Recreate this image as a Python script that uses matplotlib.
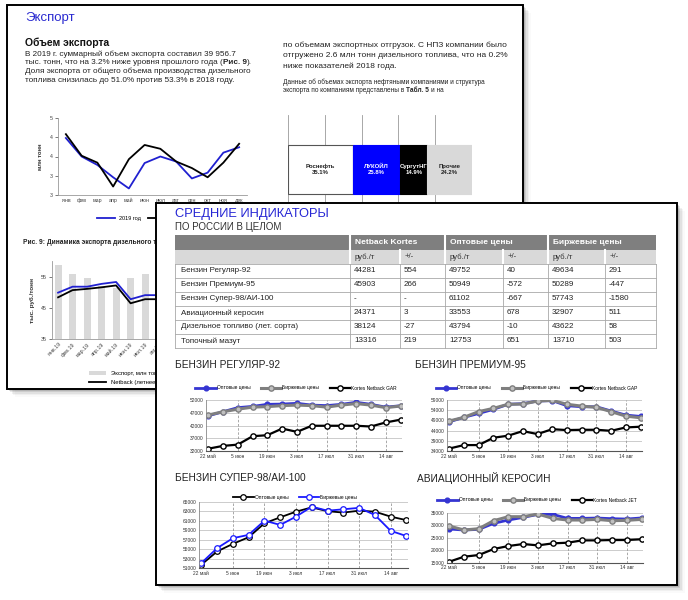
import matplotlib
matplotlib.use('Agg')
import matplotlib.pyplot as plt
from matplotlib.patches import Rectangle
import numpy as np

plt.rcParams['font.family'] = ['Liberation Sans', 'DejaVu Sans']

W, H = 688, 600

# ---------- back page: export report ----------
months = ['янв', 'фев', 'мар', 'апр', 'май', 'июн', 'июл', 'авг', 'сен', 'окт', 'ноя', 'дек']
export_2019 = [4.48, 4.00, 3.78, 3.46, 3.17, 3.83, 4.00, 3.87, 3.43, 3.58, 4.10, 4.24]
export_2018 = [4.58, 4.02, 3.84, 3.22, 3.93, 4.30, 4.20, 3.87, 3.70, 3.46, 3.84, 4.33]
export_yticks = [3, 3.5, 4, 4.5, 5]
export_ytick_labels = ['3', '3', '4', '4', '5']

companies = ['Роснефть', 'ЛУКОЙЛ', 'СургутНГ', 'Прочие']
company_share = [35.1, 25.8, 14.9, 24.2]

diesel_months = ['янв.19', 'фев.19', 'мар.19', 'апр.19', 'май.19', 'июн.19', 'июл.19', 'авг.19']
diesel_export = [58.7, 55.9, 54.5, 52.0, 51.3, 54.5, 55.9, 55.0]
diesel_opt = [49.9, 51.8, 51.8, 52.7, 53.3, 47.8, 49.1, 49.1]
diesel_netback = [48.4, 50.7, 51.1, 51.6, 52.2, 46.5, 47.8, 47.8]

# ---------- front page: average indicators ----------
table_groups = ['Netback Kortes', 'Оптовые цены', 'Биржевые цены']
table_sub = ['руб./т', '+/-']
table_rows = ['Бензин Регуляр-92', 'Бензин Премиум-95', 'Бензин Супер-98/АИ-100',
              'Авиационный керосин', 'Дизельное топливо (лет. сорта)', 'Топочный мазут']
netback_price = ['44281', '45903', '-', '24371', '38124', '13316']
netback_diff = ['554', '266', '-', '3', '-27', '219']
opt_price = ['49752', '50949', '61102', '33553', '43794', '12753']
opt_diff = ['40', '-572', '-667', '678', '-10', '651']
birzh_price = ['49634', '50289', '57743', '32907', '43622', '13710']
birzh_diff = ['291', '-447', '-1580', '511', '58', '503']

weeks = ['22 май', '29 май', '5 июн', '12 июн', '19 июн', '26 июн', '3 июл',
         '10 июл', '17 июл', '24 июл', '31 июл', '7 авг', '14 авг', '21 авг']

ai92_opt = [45800, 47400, 49000, 49500, 50300, 50400, 50700, 50000, 49800, 50300, 51100, 50300, 49200, 49752]
ai92_birzh = [46100, 47400, 48400, 49200, 49400, 49800, 50000, 49800, 49200, 50000, 50600, 50000, 49000, 49634]
ai92_netback = [32900, 34000, 34500, 37800, 38200, 40800, 39500, 41900, 41900, 41900, 41900, 41600, 43200, 44281]

ai95_opt = [48300, 50500, 52400, 54400, 56900, 57200, 58500, 58700, 56200, 55700, 55700, 53600, 51600, 50949]
ai95_birzh = [48700, 50500, 53300, 54900, 56900, 57000, 58500, 58800, 56900, 56000, 55400, 53300, 51100, 50289]
ai95_netback = [35200, 36900, 36900, 40500, 41500, 43750, 42300, 44700, 44250, 44400, 44400, 43900, 45550, 45903]

ai98_opt = [51700, 54500, 56100, 57500, 60450, 61700, 62900, 63800, 63000, 62700, 63100, 62900, 61850, 61102]
ai98_birzh = [52050, 55200, 57300, 58000, 61000, 60100, 61850, 63950, 63100, 63400, 63700, 62200, 58850, 57743]

jet_opt = [28470, 28070, 28330, 30730, 32070, 33130, 34330, 34330, 32730, 32730, 32870, 32600, 32470, 32900]
jet_birzh = [29670, 28070, 28600, 31800, 33400, 33400, 34470, 32730, 32070, 32070, 32330, 31800, 31930, 32330]
jet_netback = [15400, 17400, 18070, 20470, 21670, 22470, 21930, 22730, 23000, 23930, 23930, 24070, 24070, 24371]

fig = plt.figure(figsize=(W / 100, H / 100), dpi=100)
renderer = fig.canvas.get_renderer()


def px_axes(x0, y0, x1, y1, z):
    ax = fig.add_axes([x0 / W, 1 - y1 / H, (x1 - x0) / W, (y1 - y0) / H])
    ax.set_zorder(z)
    ax.patch.set_alpha(0)
    return ax


def layer(z):
    ax = px_axes(0, 0, W, H, z)
    ax.set_xlim(0, W)
    ax.set_ylim(H, 0)
    ax.axis('off')
    return ax


def page(ax, x0, y0, x1, y1):
    # soft shadow then the sheet itself
    for i, a in enumerate([0.12, 0.09, 0.06, 0.04, 0.02]):
        d = 2 + i * 1.4
        ax.add_patch(Rectangle((x0 + d, y0 + d), x1 - x0, y1 - y0, fc='black', ec='none', alpha=a))
    ax.add_patch(Rectangle((x0, y0), x1 - x0, y1 - y0, fc='white', ec='black', lw=1.4))


def rich_line(ax, x, y, parts, size, color='#222222'):
    space = size * 1.389 * 0.28
    for s, weight, gap in parts:
        if gap:
            x += space
        t = ax.text(x, y, s, fontsize=size, fontweight=weight, va='center', color=color)
        x += t.get_window_extent(renderer).width


# ================= back page =================
back = layer(0)
page(back, 7, 5, 523, 389)
back.text(25, 18, 'Экспорт', color='#2a2ad0', fontsize=9.5, va='center')
back.text(25, 43, 'Объем экспорта', fontsize=7.5, fontweight='bold', va='center', color='#111111')
rich_line(back, 25, 54, [('В 2019 г. суммарный объем экспорта составил 39 956.7', 'normal', False)], 5.9)
rich_line(back, 25, 62.7, [('тыс. тонн, что на 3.2% ниже уровня прошлого года (', 'normal', False),
                           ('Рис. 9', 'bold', False), (').', 'normal', False)], 5.9)
rich_line(back, 25, 71.3, [('Доля экспорта от общего объема производства дизельного', 'normal', False)], 5.9)
rich_line(back, 25, 80, [('топлива снизилась до 51.0% против 53.3% в 2018 году.', 'normal', False)], 5.9)

rich_line(back, 283, 45, [('по объемам экспортных отгрузок. С НПЗ компании было', 'normal', False)], 6)
rich_line(back, 283, 55.7, [('отгружено 2.6 млн тонн дизельного топлива, что на 0.2%', 'normal', False)], 6)
rich_line(back, 283, 66.7, [('ниже показателей 2018 года.', 'normal', False)], 6)
rich_line(back, 283, 82, [('Данные об объемах экспорта нефтяными компаниями и структура', 'normal', False)], 4.7)
rich_line(back, 283, 90, [('экспорта по компаниям представлены в', 'normal', False),
                          ('Табл. 5', 'bold', True), ('и на', 'normal', True)], 4.7)
back.text(23, 242, 'Рис. 9: Динамика экспорта дизельного топлива', fontsize=4.8,
          fontweight='bold', va='center', color='#222222')

# monthly export volumes
ax_exp = px_axes(58, 118, 247, 195, 1)
xm = np.arange(len(months))
l19, = ax_exp.plot(xm, export_2019, color='#2020d0', lw=1.3)
l18, = ax_exp.plot(xm, export_2018, color='black', lw=1.3)
ax_exp.set_xlim(-0.5, 11.5)
ax_exp.set_ylim(3, 5)
ax_exp.set_yticks(export_yticks, export_ytick_labels)
ax_exp.set_xticks(xm, months)
ax_exp.tick_params(labelsize=3.8, colors='#444444', length=2, width=0.5, pad=2)
ax_exp.tick_params(axis='x', length=0)
for s in ['top', 'right']:
    ax_exp.spines[s].set_visible(False)
for s in ['left', 'bottom']:
    ax_exp.spines[s].set_color('#999999')
    ax_exp.spines[s].set_linewidth(0.6)
ax_exp.set_ylabel('млн тонн', fontsize=4.2, fontweight='bold', labelpad=5, color='#333333')
# the 2018 entry sits under the front sheet, only its line end shows
ax_exp.legend([l19, l18], ['2019 год', ''], ncol=2, loc='center left',
              bbox_to_anchor=(0.18, -0.31), frameon=False,
              fontsize=4, handlelength=3.2, columnspacing=1.2)

# export structure by company
ax_co = px_axes(288, 115, 472, 224, 1)
colors_co = ['white', '#0000ff', 'black', '#d9d9d9']
text_co = ['#222222', 'white', 'white', '#222222']
left = 0
for name, share, c, tc in zip(companies, company_share, colors_co, text_co):
    ec = '#555555' if c == 'white' else c
    ax_co.barh(0, share, left=left, height=1, color=c, edgecolor=ec, lw=0.8, zorder=2)
    ax_co.text(left + share / 2, 0, f'{name}\n{share:.1f}%', ha='center', va='center',
               fontsize=4.3, fontweight='bold', color=tc, zorder=3, linespacing=1.3)
    left += share
ax_co.set_xlim(0, 100)
ax_co.set_ylim(-1.112, 1.112)
for g in range(0, 101, 20):
    ax_co.axvline(g, color='#9a9a9a', lw=0.6, zorder=1)
ax_co.axis('off')

# diesel prices vs export
ax_ds = px_axes(52, 261, 168, 339.3, 1)
xd = np.arange(len(diesel_months))
b = ax_ds.bar(xd, diesel_export, width=0.48, color='#d9d9d9', label='Экспорт, млн тонн')
l_opt, = ax_ds.plot(xd, diesel_opt, color='#2020d0', lw=1.3, label='Оптовые цены')
l_nb, = ax_ds.plot(xd, diesel_netback, color='black', lw=1.3, label='Netback (летнее ДТ)')
ax_ds.set_xlim(-0.42, 7.58)
ax_ds.set_ylim(35, 60)
ax_ds.set_yticks([35, 45, 55])
ax_ds.set_xticks(xd, diesel_months, rotation=45, ha='right', rotation_mode='anchor')
ax_ds.tick_params(labelsize=3.8, colors='#444444', length=2, width=0.5, pad=2)
ax_ds.tick_params(axis='x', length=0)
for s in ['top', 'right']:
    ax_ds.spines[s].set_visible(False)
for s in ['left', 'bottom']:
    ax_ds.spines[s].set_color('#999999')
    ax_ds.spines[s].set_linewidth(0.6)
ax_ds.set_ylabel('тыс. руб./тонн', fontsize=4.6, fontweight='bold', labelpad=4, color='#333333')
ax_ds.legend(handles=[b, l_nb, l_opt], ncol=2, loc='upper left',
             bbox_to_anchor=(86 / W, 1 - 368 / H), bbox_transform=fig.transFigure,
             frameon=False, fontsize=4.2, handlelength=3, borderpad=0, labelspacing=0.6)

# ================= front page =================
front = layer(2)
page(front, 156, 203, 677, 585)
front.text(175, 214, 'СРЕДНИЕ ИНДИКАТОРЫ', color='#2626d4', fontsize=9.3, va='center')
front.text(175, 227, 'ПО РОССИИ В ЦЕЛОМ', color='#333333', fontsize=7, va='center')

col_x = [175, 350, 400, 445, 503, 548, 605, 656]
row_y = [235, 250, 264, 278, 292, 306, 320, 334, 348]
front.add_patch(Rectangle((col_x[0], row_y[0]), col_x[-1] - col_x[0], row_y[1] - row_y[0],
                          fc='#7f7f7f', ec='none'))
front.add_patch(Rectangle((col_x[0], row_y[1]), col_x[-1] - col_x[0], row_y[2] - row_y[1],
                          fc='#d9d9d9', ec='none'))
for i, g in enumerate(table_groups):
    cx = col_x[1 + 2 * i]
    front.plot([cx, cx], [row_y[0], row_y[1]], color='white', lw=1.5)
    front.text(cx + 5, (row_y[0] + row_y[1]) / 2, g, color='white', fontsize=6,
               fontweight='bold', va='center')
    for j, sub in enumerate(table_sub):
        sx = col_x[1 + 2 * i + j]
        front.plot([sx, sx], [row_y[1], row_y[2]], color='white', lw=1.5)
        front.text(sx + 5, (row_y[1] + row_y[2]) / 2, sub, color='#333333', fontsize=5.6, va='center')

columns = [table_rows, netback_price, netback_diff, opt_price, opt_diff, birzh_price, birzh_diff]
for y in row_y[2:]:
    front.plot([col_x[0], col_x[-1]], [y, y], color='#a8a8a8', lw=0.6)
for x in col_x:
    front.plot([x, x], [row_y[2], row_y[-1]], color='#a8a8a8', lw=0.6)
for c, vals in enumerate(columns):
    pad = 6 if c == 0 else 4
    for r, v in enumerate(vals):
        front.text(col_x[c] + pad, (row_y[2 + r] + row_y[3 + r]) / 2, v, fontsize=5.8,
                   color='#222222', va='center')

front.text(175, 365, 'БЕНЗИН РЕГУЛЯР-92', fontsize=7.3, color='#222222', va='center')
front.text(415, 365, 'БЕНЗИН ПРЕМИУМ-95', fontsize=7.3, color='#222222', va='center')
front.text(175, 478, 'БЕНЗИН СУПЕР-98/АИ-100', fontsize=7.3, color='#222222', va='center')
front.text(417, 478, 'АВИАЦИОННЫЙ КЕРОСИН', fontsize=7.3, color='#222222', va='center')

style_opt = dict(color='#3535d2', lw=2.0, marker='o', ms=3.4, mfc='#3535d2', mec='#3535d2')
style_birzh = dict(color='#7f7f7f', lw=2.2, marker='o', ms=3.8, mfc='#c0c0c0', mec='#7f7f7f', mew=1)
style_nb = dict(color='black', lw=1.6, marker='o', ms=3.8, mfc='white', mec='black', mew=1)
style_black_thin = dict(color='black', lw=1.3, marker='o', ms=4, mfc='white', mec='black', mew=0.9)
style_blue_thin = dict(color='#1a1aff', lw=1.3, marker='o', ms=4, mfc='white', mec='#1a1aff', mew=0.9)


def price_chart(box, ylim, yticks, series, legend_y):
    ax = px_axes(*box, 3)
    xw = np.arange(len(weeks))
    for vals, style, label in series:
        ax.plot(xw, vals, label=label, **style)
    ax.set_xlim(-0.15, len(weeks) - 0.9)
    ax.set_ylim(*ylim)
    ax.set_yticks(yticks)
    ax.set_yticklabels([str(t) for t in yticks])
    ax.set_xticks(xw[::2], weeks[::2])
    ax.tick_params(labelsize=3.5, colors='#333333', length=0, pad=2)
    for t in yticks[1:]:
        ax.axhline(t, color='#c4c4c4', lw=0.6, zorder=0)
    for t in xw[2::2]:
        ax.axvline(t, color='#9a9a9a', lw=0.6, ls=(0, (3, 2)), zorder=0)
    for s in ['top', 'right']:
        ax.spines[s].set_visible(False)
    ax.spines['left'].set_color('#888888')
    ax.spines['left'].set_linewidth(0.6)
    ax.spines['bottom'].set_color('#555555')
    ax.spines['bottom'].set_linewidth(0.8)
    h = box[3] - box[1]
    ax.legend(ncol=3, loc='center', bbox_to_anchor=(0.46, 1 + (box[1] - legend_y) / h),
              frameon=False, fontsize=3.5, handlelength=4.2, columnspacing=2.2,
              handletextpad=0.2, borderpad=0)
    return ax


price_chart((206, 400, 402, 451), (32000, 52000), [32000, 37000, 42000, 47000, 52000],
            [(ai92_opt, style_opt, 'Оптовые цены'), (ai92_birzh, style_birzh, 'Биржевые цены'),
             (ai92_netback, style_nb, 'Kortes Netback GAR')], 388)
price_chart((447, 400, 642, 451), (34000, 59000), [34000, 39000, 44000, 49000, 54000, 59000],
            [(ai95_opt, style_opt, 'Оптовые цены'), (ai95_birzh, style_birzh, 'Биржевые цены'),
             (ai95_netback, style_nb, 'Kortes Netback GAP')], 388)
price_chart((199, 501.7, 408, 568), (51000, 65000), [51000, 53000, 55000, 57000, 59000, 61000, 63000, 65000],
            [(ai98_opt, style_black_thin, 'Оптовые цены'), (ai98_birzh, style_blue_thin, 'Биржевые цены')], 497)
price_chart((447, 512.7, 643, 562.7), (15000, 35000), [15000, 20000, 25000, 30000, 35000],
            [(jet_opt, style_opt, 'Оптовые цены'), (jet_birzh, style_birzh, 'Биржевые цены'),
             (jet_netback, style_nb, 'Kortes Netback JET')], 500)

fig.savefig('out.png', dpi=100)
